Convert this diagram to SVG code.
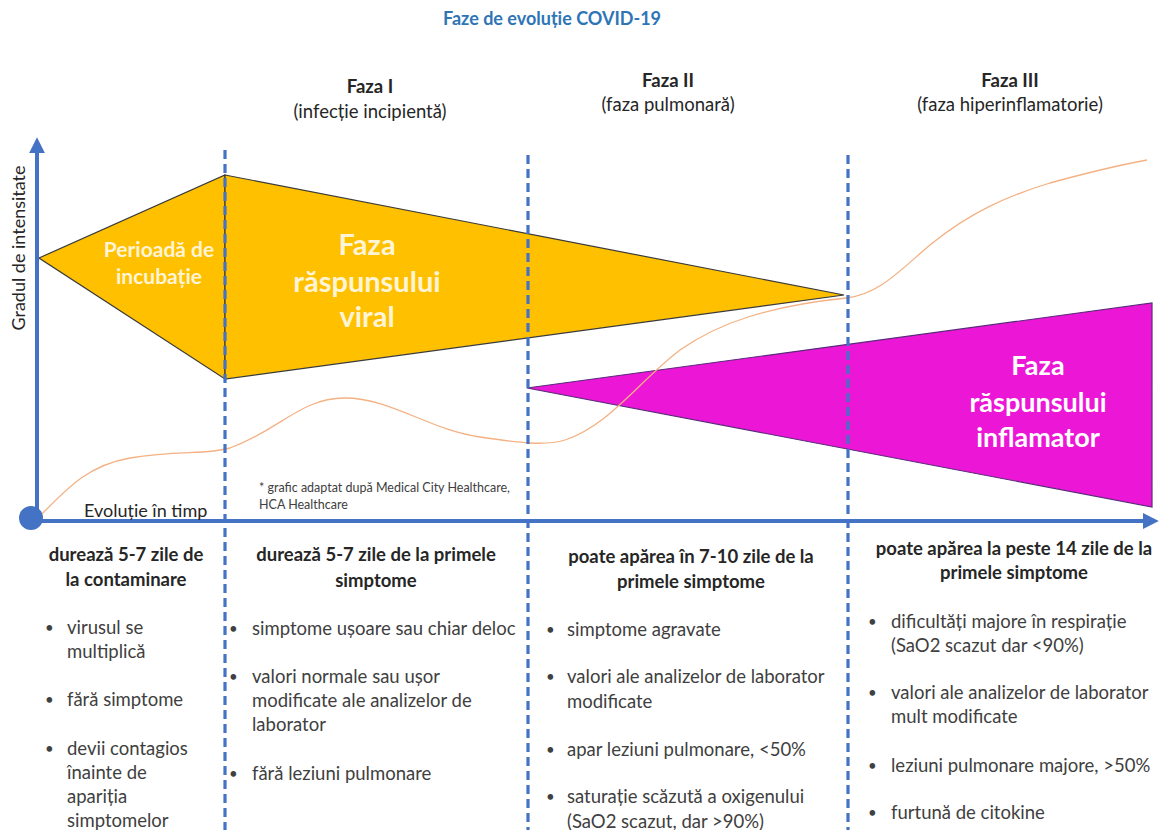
<svg xmlns="http://www.w3.org/2000/svg" width="1161" height="830" viewBox="0 0 1161 830">
<style>
text{font-family:Lato,"Open Sans","Liberation Sans",sans-serif;}
.hd{font-size:18.5px;fill:#262626;text-anchor:middle;}
.hb{font-size:18.5px;font-weight:bold;fill:#262626;text-anchor:middle;}
.bt{font-size:18.5px;fill:#404040;}
.bu{font-size:15px;fill:#404040;}
.bh{font-size:18.5px;font-weight:bold;fill:#262626;text-anchor:middle;}
.wt{font-weight:bold;fill:#FFFFFF;text-anchor:middle;}
.ax{stroke:#4472C4;stroke-width:4;fill:none;}
.dash{stroke:#4472C4;stroke-width:3.2;stroke-dasharray:9,5;fill:none;}
</style>
<defs>
<marker id="ah" viewBox="0 0 10 10" refX="2" refY="5" markerWidth="4" markerHeight="4" orient="auto" markerUnits="strokeWidth">
<path d="M0,0 L10,5 L0,10 z" fill="#4472C4"/>
</marker>
</defs>
<rect width="1161" height="830" fill="#FFFFFF"/>
<text x="552" y="25" style="font-size:18px;font-weight:bold;fill:#2E75B6;text-anchor:middle;">Faze de evoluție COVID-19</text>

<g id="headers">
<text class="hb" x="370" y="93">Faza I</text>
<text class="hd" x="370" y="118">(infecție incipientă)</text>
<text class="hb" x="668" y="87">Faza II</text>
<text class="hd" x="668" y="111">(faza pulmonară)</text>
<text class="hb" x="1010" y="87">Faza III</text>
<text class="hd" x="1010" y="111">(faza hiperinflamatorie)</text>
</g>

<g id="incubatie">
<polygon points="39,258 225,175 225,379" fill="#FFC000" stroke="#3A3A3A" stroke-width="1.2"/>
<text class="wt" x="159" y="257" style="font-size:21px;fill:#FFF4D6;">Perioadă de</text>
<text class="wt" x="159" y="284" style="font-size:21px;fill:#FFF4D6;">incubație</text>
</g>

<g id="raspuns-viral">
<polygon points="225,175 844,295 225,379" fill="#FFC000" stroke="#3A3A3A" stroke-width="1.2"/>
<text class="wt" x="367" y="255" style="font-size:29px;fill:#FFF4D6;">Faza</text>
<text class="wt" x="367" y="292" style="font-size:29px;fill:#FFF4D6;">răspunsului</text>
<text class="wt" x="367" y="327" style="font-size:29px;fill:#FFF4D6;">viral</text>
</g>

<g id="raspuns-inflamator">
<polygon points="527,388 1152,303 1152,507" fill="#EC16D6" stroke="#5A2A7A" stroke-width="1.2"/>
<text class="wt" x="1038" y="375" style="font-size:27px;">Faza</text>
<text class="wt" x="1038" y="412" style="font-size:27px;">răspunsului</text>
<text class="wt" x="1038" y="447" style="font-size:27px;">inflamator</text>
</g>

<g id="curba">
<path d="M40,516 C70,485 90,465 130,458 C180,450 205,455 230,448 C280,430 300,398 345,398 C390,398 430,430 480,437 C520,443 545,446 565,440 C610,425 640,380 680,350 C720,322 770,306 846,298 C880,294 900,270 930,245 C970,212 1010,195 1050,183 C1090,172 1120,165 1147,160" fill="none" stroke="#F4B183" stroke-width="1.3"/>
</g>

<g id="connectors">
<line class="ax" x1="37" y1="520" x2="37" y2="150" marker-end="url(#ah)"/>
<line class="ax" x1="30" y1="521" x2="1146" y2="521" marker-end="url(#ah)"/>
<line class="dash" x1="225" y1="150" x2="225" y2="830"/>
<line class="dash" x1="528" y1="155" x2="528" y2="830"/>
<line class="dash" x1="848" y1="155" x2="848" y2="830"/>
</g>

<g id="origine">
<circle cx="31" cy="518" r="12" fill="#4472C4"/>
</g>

<g id="axe-labels">
<text x="0" y="0" transform="translate(25,248) rotate(-90)" style="font-size:18px;fill:#262626;text-anchor:middle;">Gradul de intensitate</text>
<text x="84" y="517" style="font-size:18px;fill:#262626;">Evoluție în timp</text>
<text x="259" y="492" style="font-size:12.5px;fill:#404040;">* grafic adaptat după Medical City Healthcare,</text>
<text x="259" y="509" style="font-size:12.5px;fill:#404040;">HCA Healthcare</text>
</g>

<g id="col1">
<text class="bh" x="126" y="561">durează 5-7 zile de</text>
<text class="bh" x="126" y="586">la contaminare</text>
<text class="bu" x="45" y="633">•</text><text class="bt" x="67" y="634">virusul se</text>
<text class="bt" x="67" y="658">multiplică</text>
<text class="bu" x="45" y="705">•</text><text class="bt" x="67" y="706">fără simptome</text>
<text class="bu" x="45" y="754">•</text><text class="bt" x="67" y="755">devii contagios</text>
<text class="bt" x="67" y="779">înainte de</text>
<text class="bt" x="67" y="803">apariția</text>
<text class="bt" x="67" y="827">simptomelor</text>
</g>

<g id="col2">
<text class="bh" x="376" y="561">durează 5-7 zile de la primele</text>
<text class="bh" x="376" y="587">simptome</text>
<text class="bu" x="229" y="634">•</text><text class="bt" x="252" y="635">simptome ușoare sau chiar deloc</text>
<text class="bu" x="229" y="682">•</text><text class="bt" x="252" y="683">valori normale sau ușor</text>
<text class="bt" x="252" y="707">modificate ale analizelor de</text>
<text class="bt" x="252" y="731">laborator</text>
<text class="bu" x="229" y="779">•</text><text class="bt" x="252" y="780">fără leziuni pulmonare</text>
</g>

<g id="col3">
<text class="bh" x="691" y="563">poate apărea în 7-10 zile de la</text>
<text class="bh" x="691" y="588">primele simptome</text>
<text class="bu" x="546" y="635">•</text><text class="bt" x="567" y="636">simptome agravate</text>
<text class="bu" x="546" y="682">•</text><text class="bt" x="567" y="683">valori ale analizelor de laborator</text>
<text class="bt" x="567" y="708">modificate</text>
<text class="bu" x="546" y="755">•</text><text class="bt" x="567" y="756">apar leziuni pulmonare, &lt;50%</text>
<text class="bu" x="546" y="802">•</text><text class="bt" x="567" y="803">saturație scăzută a oxigenului</text>
<text class="bt" x="567" y="828">(SaO2 scazut, dar &gt;90%)</text>
</g>

<g id="col4">
<text class="bh" x="1014" y="555">poate apărea la peste 14 zile de la</text>
<text class="bh" x="1014" y="579">primele simptome</text>
<text class="bu" x="868" y="627">•</text><text class="bt" x="891" y="628">dificultăți majore în respirație</text>
<text class="bt" x="891" y="652">(SaO2 scazut dar &lt;90%)</text>
<text class="bu" x="868" y="698">•</text><text class="bt" x="891" y="699">valori ale analizelor de laborator</text>
<text class="bt" x="891" y="723">mult modificate</text>
<text class="bu" x="868" y="771">•</text><text class="bt" x="891" y="772">leziuni pulmonare majore, &gt;50%</text>
<text class="bu" x="868" y="818">•</text><text class="bt" x="891" y="819">furtună de citokine</text>
</g>
</svg>
